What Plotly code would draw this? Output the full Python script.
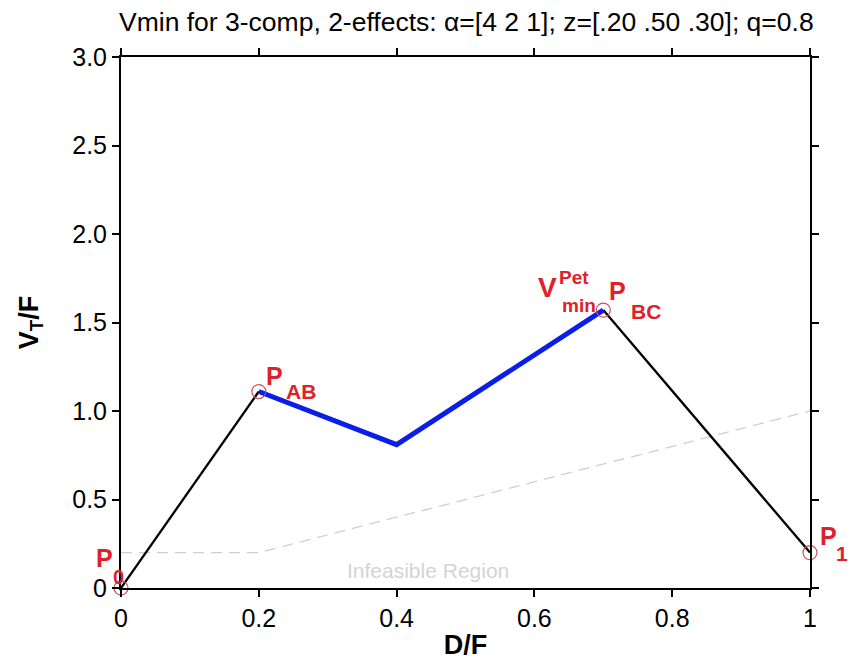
import plotly.graph_objects as go

# Vmin curve: boundary segments (black) and the optimal path (blue)
x_left = [0.0, 0.2]
y_left = [0.0, 1.11]
x_path = [0.2, 0.4, 0.7]
y_path = [1.11, 0.81, 1.57]
x_right = [0.7, 1.0]
y_right = [1.57, 0.20]

# key points P0, PAB, PBC, P1
x_pts = [0.0, 0.2, 0.7, 1.0]
y_pts = [0.0, 1.11, 1.57, 0.20]

# infeasible-region boundary
x_inf = [0.0, 0.2, 1.0]
y_inf = [0.2, 0.2, 1.0]

x_ticks = [0, 0.2, 0.4, 0.6, 0.8, 1]
x_ticktext = ["0", "0.2", "0.4", "0.6", "0.8", "1"]
y_ticks = [0, 0.5, 1.0, 1.5, 2.0, 2.5, 3.0]
y_ticktext = ["0", "0.5", "1.0", "1.5", "2.0", "2.5", "3.0"]

RED = "#e0202a"
FONT = "Liberation Sans, Arial, sans-serif"

fig = go.Figure()
fig.add_trace(go.Scatter(x=x_inf, y=y_inf, mode="lines",
                         line=dict(color="#cfcfcf", width=1.3, dash="11px,7px"),
                         hoverinfo="skip"))
fig.add_trace(go.Scatter(x=x_left, y=y_left, mode="lines",
                         line=dict(color="black", width=2.3)))
fig.add_trace(go.Scatter(x=x_right, y=y_right, mode="lines",
                         line=dict(color="black", width=2.3)))
fig.add_trace(go.Scatter(x=x_path, y=y_path, mode="lines",
                         line=dict(color="#0a1ee8", width=5)))
fig.add_trace(go.Scatter(x=x_pts, y=y_pts, mode="markers",
                         marker=dict(symbol="circle-open", size=14,
                                     color="#c8505a", line=dict(width=1.2)),
                         cliponaxis=False))


def label(i, text, size, dx, dy, color=RED, bold=True):
    """Place a text piece next to key point i, offset by (dx, dy) pixels."""
    fig.add_annotation(x=x_pts[i], y=y_pts[i],
                       text=f"<b>{text}</b>" if bold else text,
                       showarrow=False, xanchor="center", yanchor="middle",
                       xshift=dx, yshift=dy,
                       font=dict(family=FONT, size=size, color=color))


# P0
label(0, "P", 25, -17, 30)
label(0, "0", 20, -3, 11)
# PAB
label(1, "P", 25, 16, 16)
label(1, "AB", 21, 42, 0)
# PBC
label(2, "P", 25, 14, 19)
label(2, "BC", 21, 43, -1)
# V_min^Pet
label(2, "V", 28, -56, 23)
label(2, "Pet", 19, -29, 33)
label(2, "min", 19, -24, 5)
# P1
label(3, "P", 25, 18, 17)
label(3, "1", 21, 32, -1)

fig.add_annotation(x=0.445, y=0.1, text="Infeasible Region", showarrow=False,
                   xanchor="center", yanchor="middle",
                   font=dict(family=FONT, size=21, color="#d4d4d4"))

axis_common = dict(showline=True, linecolor="black", linewidth=2, mirror="ticks",
                   ticks="outside", ticklen=7, tickwidth=2, tickcolor="black",
                   showgrid=False, zeroline=False,
                   tickfont=dict(family=FONT, size=25, color="black"))

fig.update_layout(
    width=851, height=671,
    margin=dict(l=121, r=41, t=57, b=83),
    paper_bgcolor="white", plot_bgcolor="white",
    showlegend=False,
    title=dict(text="Vmin for 3-comp, 2-effects: \u03b1=[4 2 1]; z=[.20 .50 .30]; q=0.8",
               x=0.548, xanchor="center", y=1 - 22 / 671, yanchor="middle",
               font=dict(family=FONT, size=26.5, color="black")),
    xaxis=dict(range=[0, 1], tickvals=x_ticks, ticktext=x_ticktext,
               title=dict(text="<b>D/F</b>", standoff=4,
                          font=dict(family=FONT, size=27, color="black")),
               **axis_common),
    yaxis=dict(range=[0, 3], tickvals=y_ticks, ticktext=y_ticktext,
               title=dict(text="<b>V<sub>T</sub>/F</b>", standoff=26,
                          font=dict(family=FONT, size=27, color="black")),
               **axis_common),
)

fig.write_html("out.html")
